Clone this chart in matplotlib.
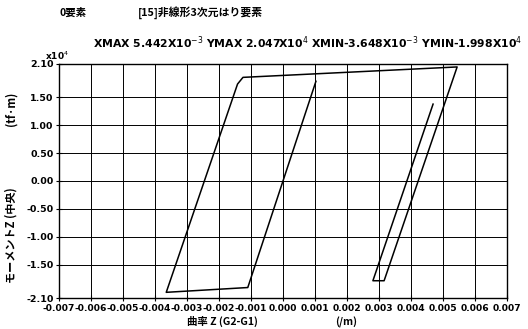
import matplotlib
matplotlib.use('Agg')
import matplotlib.pyplot as plt

plt.rcParams['font.family'] = ['Noto Sans CJK JP', 'DejaVu Sans']

# curvature (1/m) and moment (x10^4 tf.m) along the load path
curvature = [0.00103, -0.0011, -0.003648, -0.00142, -0.00125,
             0.005442, 0.00316, 0.00281, 0.00469]
moment = [1.79, -1.912, -1.998, 1.74, 1.86,
          2.047, -1.79, -1.79, 1.38]

xticks = [-0.007, -0.006, -0.005, -0.004, -0.003, -0.002, -0.001, 0.0,
          0.001, 0.002, 0.003, 0.004, 0.005, 0.006, 0.007]
yticks = [-2.10, -1.50, -1.00, -0.50, 0.00, 0.50, 1.00, 1.50, 2.10]

fig = plt.figure(figsize=(5.28, 3.29), dpi=100)
ax = fig.add_axes([0.1117, 0.0942, 0.8485, 0.7113])

ax.plot(curvature, moment, color='black', lw=1.1,
        solid_joinstyle='round')

ax.set_xlim(-0.007, 0.007)
ax.set_ylim(-2.1, 2.1)
ax.set_xticks(xticks)
ax.set_yticks(yticks)
ax.set_xticklabels(['%.3f' % t for t in xticks], fontsize=6.6,
                   fontweight='bold', family='DejaVu Sans')
ax.set_yticklabels(['%.2f' % t for t in yticks], fontsize=6.8,
                   fontweight='bold', family='DejaVu Sans')
ax.tick_params(direction='inout', length=4, width=0.8, pad=2)
ax.grid(True, color='black', lw=0.7)
for s in ax.spines.values():
    s.set_linewidth(1.0)

# header texts
fig.text(0.113, 0.952, '0要素', fontsize=7.5, fontweight='bold')
fig.text(0.262, 0.952, '[15]非線形3次元はり要素', fontsize=7.8, fontweight='bold')
fig.text(0.176, 0.855,
         'XMAX 5.442X10$^{-3}$ YMAX 2.047X10$^{4}$ '
         'XMIN-3.648X10$^{-3}$ YMIN-1.998X10$^{4}$',
         fontsize=7.8, fontweight='bold', family='DejaVu Sans')
fig.text(0.085, 0.818, 'x10$^{4}$', fontsize=6.5, fontweight='bold',
         family='DejaVu Sans')

# axis labels
fig.text(0.421, 0.012, '曲率 Z (G2-G1)', fontsize=7.5, fontweight='bold', ha='center')
fig.text(0.655, 0.012, '(/m)', fontsize=7.5, fontweight='bold', ha='center')
fig.text(0.02, 0.285, 'モーメントZ (中央)', fontsize=8, fontweight='bold',
         rotation=90, va='center', ha='center')
fig.text(0.02, 0.67, '(tf·m)', fontsize=8, fontweight='bold',
         rotation=90, va='center', ha='center')

fig.savefig('out.png', dpi=100)
